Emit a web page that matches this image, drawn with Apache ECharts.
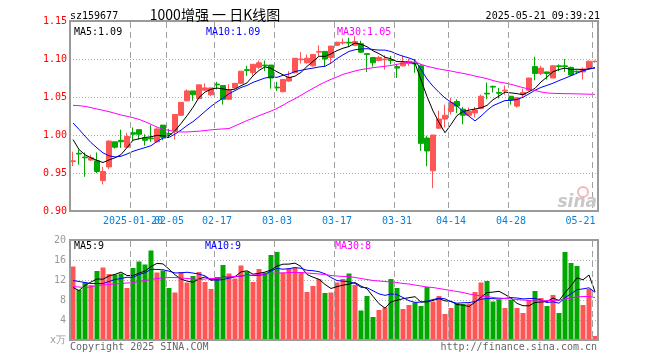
<!DOCTYPE html>
<html><head><meta charset="utf-8">
<script src="https://cdn.jsdelivr.net/npm/echarts@6/dist/echarts.min.js"></script>
<style>html,body{margin:0;padding:0;background:#fff}#c{width:660px;height:360px}</style>
</head><body><div id="c"></div>
<script>
const dates = [
'2025-01-06','2025-01-07','2025-01-08','2025-01-09','2025-01-10','2025-01-13','2025-01-14','2025-01-15','2025-01-16','2025-01-17',
'2025-01-20','2025-01-21','2025-01-22','2025-01-23','2025-01-24','2025-01-27',
'2025-02-05','2025-02-06','2025-02-07','2025-02-10','2025-02-11','2025-02-12','2025-02-13','2025-02-14','2025-02-17','2025-02-18',
'2025-02-19','2025-02-20','2025-02-21','2025-02-24','2025-02-25','2025-02-26','2025-02-27','2025-02-28',
'2025-03-03','2025-03-04','2025-03-05','2025-03-06','2025-03-07','2025-03-10','2025-03-11','2025-03-12','2025-03-13','2025-03-14',
'2025-03-17','2025-03-18','2025-03-19','2025-03-20','2025-03-21','2025-03-24','2025-03-25','2025-03-26','2025-03-27','2025-03-28','2025-03-31',
'2025-04-01','2025-04-02','2025-04-03','2025-04-07','2025-04-08','2025-04-09','2025-04-10','2025-04-11','2025-04-14','2025-04-15',
'2025-04-16','2025-04-17','2025-04-18','2025-04-21','2025-04-22','2025-04-23','2025-04-24','2025-04-25','2025-04-28','2025-04-29','2025-04-30',
'2025-05-06','2025-05-07','2025-05-08','2025-05-09','2025-05-12','2025-05-13','2025-05-14','2025-05-15','2025-05-16','2025-05-19','2025-05-20','2025-05-21'];

const opens = [0.965,0.976,0.971,0.967,0.966,0.940,0.958,0.991,0.993,0.984,
1.003,1.007,0.996,0.996,0.991,1.013,1.002,1.006,1.026,1.045,
1.058,1.048,1.059,1.053,1.067,1.065,1.047,1.062,1.068,1.086,
1.082,1.089,1.092,1.092,1.063,1.057,1.071,1.082,1.099,1.095,
1.091,1.109,1.110,1.102,1.118,1.121,1.122,1.118,1.120,1.107,
1.102,1.098,1.099,1.099,1.090,1.091,1.094,1.0945,1.091,0.996,
0.953,1.009,1.021,1.031,1.044,1.034,1.026,1.029,1.035,1.055,
1.064,1.056,1.058,1.051,1.038,1.053,1.059,1.090,1.081,1.083,
1.075,1.091,1.091,1.089,1.084,1.083,1.088,1.0965];
const closes = [0.966,0.975,0.970,0.970,0.952,0.952,0.992,0.984,0.991,0.998,
1.001,1.001,0.993,0.995,1.008,0.997,1.001,1.027,1.043,1.058,
1.053,1.066,1.062,1.062,1.066,1.047,1.059,1.068,1.084,1.085,
1.093,1.095,1.091,1.075,1.062,1.073,1.076,1.101,1.100,1.101,
1.106,1.110,1.100,1.117,1.122,1.122,1.121,1.123,1.109,1.106,
1.095,1.102,1.100,1.098,1.088,1.095,1.097,1.0935,0.989,0.979,
1.000,1.021,1.026,1.043,1.038,1.026,1.031,1.033,1.051,1.054,
1.063,1.055,1.059,1.046,1.049,1.056,1.075,1.081,1.088,1.081,
1.091,1.090,1.090,1.079,1.083,1.087,1.097,1.097];
const lows = [0.959,0.961,0.945,0.966,0.950,0.935,0.955,0.982,0.983,0.983,
0.992,0.994,0.986,0.991,0.990,0.993,0.996,0.994,1.025,1.045,
1.045,1.047,1.058,1.051,1.060,1.040,1.046,1.061,1.067,1.078,
1.078,1.087,1.084,1.061,1.058,1.056,1.070,1.081,1.094,1.094,
1.090,1.104,1.090,1.095,1.117,1.119,1.116,1.117,1.108,1.083,
1.090,1.097,1.086,1.093,1.075,1.090,1.091,1.082,0.979,0.959,
0.930,1.008,1.010,1.027,1.029,1.014,1.025,1.023,1.034,1.047,
1.056,1.048,1.053,1.040,1.036,1.049,1.058,1.072,1.079,1.073,
1.075,1.084,1.083,1.078,1.080,1.073,1.086,1.0955];
const highs = [0.978,0.981,0.977,0.974,0.977,0.958,0.993,0.991,1.007,1.003,
1.010,1.007,1.001,1.013,1.010,1.013,1.008,1.027,1.043,1.060,
1.058,1.066,1.068,1.062,1.070,1.065,1.067,1.068,1.084,1.091,
1.093,1.098,1.098,1.092,1.070,1.073,1.084,1.101,1.109,1.106,
1.106,1.118,1.110,1.117,1.123,1.127,1.128,1.130,1.124,1.107,
1.102,1.104,1.105,1.104,1.093,1.104,1.100,1.100,1.093,0.999,
1.000,1.032,1.040,1.049,1.047,1.037,1.036,1.037,1.053,1.069,
1.065,1.062,1.065,1.051,1.050,1.061,1.075,1.103,1.091,1.083,
1.092,1.093,1.100,1.090,1.085,1.089,1.098,1.098];

const volumes = [14.7,10.0,11.5,11.0,13.8,14.5,13.2,13.1,13.3,10.4,
14.4,15.7,15.1,17.9,13.5,13.9,10.4,9.5,13.6,11.5,
12.8,13.6,11.6,10.2,12.6,15.0,13.3,12.3,14.9,13.7,
11.6,14.2,13.5,17.0,17.6,13.5,14.3,14.5,13.6,9.6,
10.8,12.2,9.4,9.5,11.5,12.2,13.3,11.0,5.9,8.8,
4.6,6.0,6.5,12.2,10.4,6.2,7.0,7.5,6.8,10.6,
7.7,8.8,5.2,6.4,7.3,7.2,7.3,9.6,11.5,11.8,
7.7,8.1,6.4,8.0,6.4,5.4,8.0,9.8,8.4,6.8,
9.0,5.4,17.6,15.4,14.8,7.0,10.2,0.8];

const ma5 = [0.994,0.981,0.974,0.970,0.9666,0.9638,0.9672,0.970,0.9742,0.9834,
0.9932,0.995,0.9968,0.9976,0.9996,0.9988,0.9988,1.0056,1.0152,1.0252,
1.0364,1.0494,1.0564,1.0602,1.0618,1.0606,1.0592,1.0604,1.0648,1.0686,
1.0778,1.085,1.0896,1.0878,1.0832,1.0792,1.0754,1.0774,1.0824,1.0902,
1.0968,1.1036,1.1034,1.1068,1.111,1.1142,1.1164,1.121,1.1194,1.1162,
1.1108,1.107,1.1024,1.1002,1.0966,1.0966,1.0956,1.0943,1.0725,1.0507,
1.0317,1.0165,1.003,1.0138,1.0256,1.0308,1.0328,1.0342,1.0358,1.039,
1.0464,1.0512,1.0564,1.0554,1.0544,1.053,1.057,1.0614,1.0698,1.0762,
1.0832,1.0862,1.088,1.0862,1.0866,1.0858,1.0872,1.0886];
const ma10 = [1.0158,1.0075,0.9985,0.990,0.983,0.9765,0.9726,0.9711,0.972,0.975,
0.9785,0.9811,0.9834,0.9859,0.9915,0.996,0.9969,1.0012,1.0064,1.0124,
1.0176,1.0241,1.031,1.0377,1.0435,1.0485,1.0543,1.0584,1.0625,1.0652,
1.0692,1.0721,1.075,1.0763,1.0759,1.0785,1.0802,1.0835,1.0851,1.0867,
1.088,1.0895,1.0904,1.0946,1.1006,1.1055,1.11,1.1122,1.1131,1.1136,
1.1125,1.1117,1.1117,1.1098,1.1064,1.1037,1.1013,1.0984,1.0864,1.0737,
1.0642,1.0561,1.0487,1.0432,1.0382,1.0313,1.0247,1.0186,1.0248,1.0323,
1.0386,1.042,1.0453,1.0456,1.0467,1.0497,1.0541,1.0589,1.0626,1.0653,
1.0681,1.0716,1.0747,1.078,1.0814,1.0845,1.0867,1.0883];
const ma30 = [1.039,1.0386,1.0377,1.036,1.0342,1.0325,1.0307,1.0285,1.0263,1.0246,
1.0228,1.0206,1.0175,1.014,1.0105,1.0075,1.0061,1.0045,1.004,1.004,
1.0045,1.005,1.0058,1.0068,1.0075,1.008,1.0085,1.012,1.0155,1.019,
1.0222,1.0255,1.0285,1.0315,1.035,1.0392,1.0439,1.0478,1.0522,1.057,
1.0614,1.0658,1.0697,1.0732,1.0763,1.0798,1.082,1.0842,1.086,1.0873,
1.0886,1.0895,1.0904,1.0915,1.093,1.0945,1.0955,1.0962,1.093,1.0904,
1.0886,1.0868,1.0855,1.0842,1.0825,1.0811,1.0794,1.0776,1.0759,1.0741,
1.0717,1.0697,1.0684,1.0667,1.0645,1.0623,1.0605,1.0588,1.0566,1.0553,
1.0548,1.0546,1.0544,1.0543,1.0541,1.0539,1.0537,1.0535];

const vma5 = [10.5,9.9,10.9,11.6,12.2,12.16,12.8,13.12,13.58,12.9,
12.88,13.38,13.78,14.7,15.32,15.22,14.16,13.04,12.18,11.78,
11.56,12.2,12.62,11.94,12.16,12.6,12.54,12.68,13.62,13.84,
13.16,13.34,13.58,14.0,14.78,15.16,15.18,15.38,14.7,13.1,
12.56,12.14,11.12,10.3,10.68,10.96,11.18,11.5,10.78,10.24,
8.72,7.26,6.36,7.62,7.94,8.26,8.46,8.66,7.58,7.62,
7.92,8.28,7.82,7.74,7.08,6.98,6.68,7.56,8.58,9.48,
9.58,9.74,9.1,8.4,7.32,6.86,6.84,7.52,7.6,7.68,
8.4,7.88,9.44,10.84,12.44,12.04,13.0,9.64];
const vma10 = [11.9,11.7,11.5,11.3,11.3,11.3,11.7,12.1,12.3,12.55,
12.52,13.09,13.45,14.14,14.11,14.05,13.77,13.41,13.44,13.55,
13.39,13.18,12.83,12.06,11.97,12.08,12.37,12.65,12.78,13.0,
12.88,12.94,13.13,13.81,14.31,14.16,14.26,14.48,14.35,13.94,
13.86,13.66,13.25,12.5,11.89,11.76,11.66,11.31,10.54,10.46,
9.84,9.22,8.93,9.2,9.09,8.49,7.86,7.51,7.6,7.78,
8.09,8.37,8.24,7.66,7.35,7.45,7.48,7.69,8.16,8.28,
8.28,8.21,8.33,8.49,8.4,8.22,8.29,8.31,8.0,7.5,
7.63,7.36,8.48,9.22,10.06,10.22,10.44,9.54];
const vma30 = [10.7,10.6,10.5,10.6,10.9,11.0,11.1,11.2,11.3,11.4,
11.5,11.7,11.9,12.1,12.3,12.4,12.5,12.5,12.4,12.3,
12.2,12.1,12.2,12.3,12.3,12.5,12.6,12.7,12.8,12.9,
13.0,13.1,13.2,13.3,13.4,13.4,13.5,13.5,13.5,13.4,
13.3,13.2,13.1,12.9,12.8,12.7,12.7,12.5,12.3,12.1,
11.9,11.8,11.7,11.6,11.5,11.3,11.2,11.0,10.8,10.6,
10.5,10.3,10.1,9.9,9.7,9.5,9.2,9.0,8.8,8.7,
8.5,8.4,8.3,8.2,8.1,8.0,7.9,7.8,7.8,7.9,
7.9,8.0,8.2,8.4,8.6,8.7,8.7,8.5];

const tickDates = ['2025-01-20','2025-02-05','2025-02-17','2025-03-03','2025-03-17','2025-03-31','2025-04-14','2025-04-28','2025-05-21'];
const priceTicks = {min:0.90, max:1.15, step:0.05};
const volTicks = {min:0, max:20, step:4};

const UP = '#ff5555', DOWN = '#00a800';
const MONO = '"DejaVu Sans Mono", monospace';
const LABEL_BLUE = '#0a80d8';
const GRID_GRAY = '#b0b0b0';
const VGRID_GRAY = '#a0a0a0';
const N = dates.length;
const firstTick = tickDates[0], lastTick = tickDates[tickDates.length - 1];

const kData = dates.map((d, i) => [opens[i], closes[i], lows[i], highs[i]]);
const volData = volumes.map((v, i) => ({value: v, itemStyle: {color: closes[i] >= opens[i] ? UP : DOWN}}));
const tickIdx = tickDates.map(d => dates.indexOf(d));

const G1 = {left: 70, top: 21, width: 528, height: 190};
const G2 = {left: 70, top: 240, width: 528, height: 100};
const splitH = {show: true, lineStyle: {color: GRID_GRAY, type: [1, 2], width: 1}};

function lineSeries(name, data, color, x, y) {
  return {name, type: 'line', data, xAxisIndex: x, yAxisIndex: y, symbol: 'none', smooth: false,
    lineStyle: {color, width: 1}, itemStyle: {color}, z: 5, silent: true};
}
function txt(x, y, text, color, font, align) {
  return {type: 'text', x, y, z: 200, silent: true,
    style: {text, fill: color, font, textAlign: align || 'left', textVerticalAlign: 'middle', align: align || 'left', verticalAlign: 'middle'}};
}
function dateAxis(grid, labelFilter) {
  const ax = {type: 'category', gridIndex: grid, position: 'bottom', offset: 0, data: dates, boundaryGap: true,
    axisLine: {show: false}, axisTick: {show: false}, splitLine: {show: false}, axisLabel: {show: false}};
  if (labelFilter) {
    ax.axisLabel = {show: true, interval: labelFilter, hideOverlap: false,
      color: LABEL_BLUE, fontFamily: MONO, fontSize: 10, margin: 5,
      formatter: (v) => v === firstTick ? v : (v === lastTick ? '{r|' + v.slice(5) + '}' : v.slice(5)),
      rich: {r: {color: LABEL_BLUE, fontFamily: MONO, fontSize: 10, padding: [0, 29, 0, 0]}}};
  }
  return ax;
}
// dashed vertical grid lines on the left edge of each tick day's category band
function vGrid(g) {
  const band = g.width / N;
  const out = [];
  tickIdx.forEach(i => {
    const x = Math.round(g.left + i * band);
    for (let y = g.top + 1; y < g.top + g.height; y += 10) {
      out.push({type: 'rect', z: 140, silent: true,
        shape: {x: x, y: y, width: 1, height: Math.min(6, g.top + g.height - y)},
        style: {fill: VGRID_GRAY}});
    }
  });
  return out;
}

const last = N - 1;
const option = {
  animation: false,
  backgroundColor: '#fff',
  grid: [Object.assign({}, G1), Object.assign({}, G2)],
  xAxis: [
    dateAxis(0, (i, v) => tickDates.indexOf(v) > 0),
    dateAxis(1, null),
    dateAxis(0, (i, v) => v === firstTick)
  ],
  yAxis: [
    {type: 'value', gridIndex: 0, min: priceTicks.min, max: priceTicks.max, interval: priceTicks.step,
     axisLine: {show: false}, axisTick: {show: false}, splitLine: splitH,
     axisLabel: {color: '#ff0000', fontFamily: MONO, fontSize: 10, margin: 3, formatter: (v) => v.toFixed(2)}},
    {type: 'value', gridIndex: 1, min: volTicks.min, max: volTicks.max, interval: volTicks.step,
     axisLine: {show: false}, axisTick: {show: false}, splitLine: splitH,
     axisLabel: {color: '#999', fontFamily: MONO, fontSize: 10, margin: 4, formatter: (v) => v === 0 ? 'x万' : String(v)}}
  ],
  series: [
    {type: 'candlestick', data: kData, xAxisIndex: 0, yAxisIndex: 0, barWidth: 5, z: 3, silent: true,
     itemStyle: {color: UP, color0: DOWN, borderColor: UP, borderColor0: DOWN, borderWidth: 1}},
    lineSeries('MA5', ma5, '#000000', 0, 0),
    lineSeries('MA10', ma10, '#0000ff', 0, 0),
    lineSeries('MA30', ma30, '#ff00ff', 0, 0),
    {type: 'bar', data: volData, xAxisIndex: 1, yAxisIndex: 1, barWidth: 5, z: 3, silent: true},
    lineSeries('VMA5', vma5, '#000000', 1, 1),
    lineSeries('VMA10', vma10, '#0000ff', 1, 1),
    lineSeries('VMA30', vma30, '#ff00ff', 1, 1)
  ],
  graphic: vGrid(G1).concat(vGrid(G2), [
    {type: 'rect', z: 150, silent: true, shape: {x: G1.left, y: G1.top, width: G1.width, height: G1.height},
     style: {fill: 'none', stroke: '#9a9a9a', lineWidth: 2}},
    {type: 'rect', z: 150, silent: true, shape: {x: G2.left, y: G2.top, width: G2.width, height: G2.height},
     style: {fill: 'none', stroke: '#9a9a9a', lineWidth: 2}},
    txt(70, 16, 'sz159677', '#000', '10px ' + MONO),
    txt(215, 15, '1000增强 一 日K线图', '#000', '14px "Noto Sans CJK SC"', 'center'),
    txt(600, 16, '2025-05-21 09:39:21', '#000', '10px ' + MONO, 'right'),
    txt(74, 32, 'MA5:' + ma5[last].toFixed(2), '#000', '10px ' + MONO),
    txt(206, 32, 'MA10:' + ma10[last].toFixed(2), '#0000ff', '10px ' + MONO),
    txt(337, 32, 'MA30:' + ma30[last].toFixed(2), '#ff00ff', '10px ' + MONO),
    txt(74, 246, 'MA5:' + Math.floor(vma5[last]), '#000', '10px ' + MONO),
    txt(205, 246, 'MA10:' + Math.floor(vma10[last]), '#0000ff', '10px ' + MONO),
    txt(335, 246, 'MA30:' + Math.floor(vma30[last]), '#ff00ff', '10px ' + MONO),
    txt(70, 347, 'Copyright 2025 SINA.COM', '#666', '10px ' + MONO),
    txt(597, 347, 'http://finance.sina.com.cn', '#666', '10px ' + MONO, 'right'),
    {type: 'circle', z: 120, silent: true, shape: {cx: 583, cy: 192, r: 5}, style: {fill: 'none', stroke: '#f2b8b8', lineWidth: 2}},
    txt(597, 203, 'sina', '#c8c8c8', 'italic bold 17px "DejaVu Sans"', 'right')
  ])
};
const chart = echarts.init(document.getElementById('c'), null, {renderer: 'canvas'});
chart.setOption(option);
</script></body></html>
